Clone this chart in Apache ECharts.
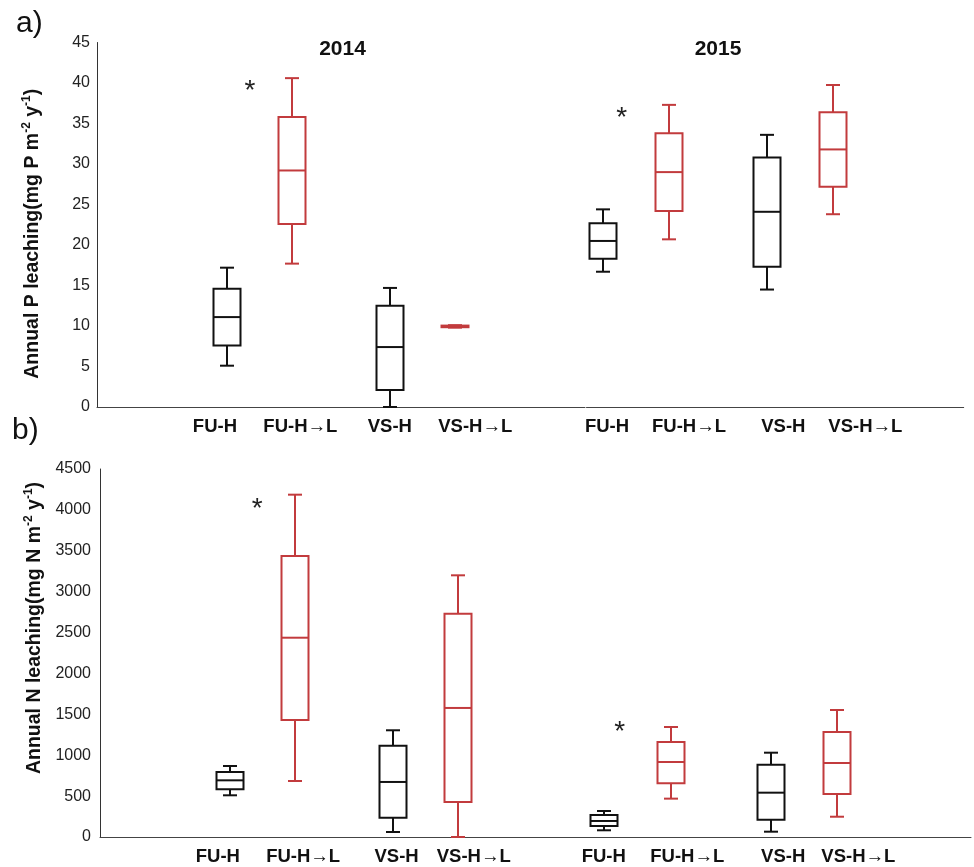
<!DOCTYPE html>
<html><head><meta charset="utf-8">
<script src="https://cdn.jsdelivr.net/npm/echarts@6/dist/echarts.min.js"></script>
<style>html,body{margin:0;padding:0;background:#fff}#c{width:974px;height:867px}</style>
</head><body><div id="c"></div>
<script>
// ---- data ----
const groups = ['FU-H', 'FU-H→L', 'VS-H', 'VS-H→L'];
const years = ['2014', '2015'];
// five-number summaries per group: [min, Q1, median, Q3, max]
const P2014 = [[5.1, 7.6, 11.1, 14.6, 17.2], [17.7, 22.6, 29.2, 35.8, 40.6], [0, 2.1, 7.4, 12.5, 14.7], [9.8, 9.85, 9.95, 10.05, 10.1]];
const P2015 = [[16.7, 18.3, 20.5, 22.7, 24.4], [20.7, 24.2, 29.0, 33.8, 37.3], [14.5, 17.3, 24.1, 30.8, 33.6], [23.8, 27.2, 31.8, 36.4, 39.75]];
const N2014 = [[510, 583, 693, 795, 868], [685, 1431, 2437, 3437, 4186], [61, 236, 673, 1117, 1305], [0, 428, 1578, 2731, 3200]];
const N2015 = [[82, 134, 196, 269, 318], [469, 656, 917, 1162, 1345], [65, 212, 542, 884, 1031], [248, 526, 905, 1284, 1553]];
// significance marks (x in slot units of each year's axis, y in data units)
const starP = [[9.4, 39.8], [2.15, 36.5]];
const starN = [[9.68, 4090], [1.95, 1360]];

// ---- layout ----
const SLOTS = [[8, 12, 18, 22], [1, 5, 11, 15]];
// where each group's tick label sits (slot units), per panel & year
const LABEL_SLOTS = {
  a: [[7.25, 12.5, 18, 23.25], [1.25, 6.25, 12, 17]],
  b: [[7.25, 12.5, 18.25, 23], [1, 6, 11.75, 16.25]]
};
const XMAX = [30, 23];
const BLACK = '#111111', RED = '#c23b3d';
const FONT = 'Liberation Sans, Arial, sans-serif';

function labelFor(panel, y) {
  return v => { const i = LABEL_SLOTS[panel][y].indexOf(v); return i >= 0 ? groups[i] : ''; };
}
function buildBoxes(stats, y) {
  return stats.map((s, g) => [SLOTS[y][g]].concat(s));
}
function boxRender(params, api) {
  const x = api.value(0);
  const c = i => api.coord([x, api.value(i)]);
  const pMin = c(1), pQ1 = c(2), pMed = c(3), pQ3 = c(4), pMax = c(5);
  const cx = Math.round(pMin[0]), hw = 13.5, cw = 7;
  const color = (params.dataIndex % 2) ? RED : BLACK;
  const st = { stroke: color, lineWidth: 2, fill: null };
  return { type: 'group', children: [
    { type: 'line', shape: { x1: cx, y1: pQ3[1], x2: cx, y2: pMax[1] }, style: st },
    { type: 'line', shape: { x1: cx, y1: pQ1[1], x2: cx, y2: pMin[1] }, style: st },
    { type: 'line', shape: { x1: cx - cw, y1: pMax[1], x2: cx + cw, y2: pMax[1] }, style: st },
    { type: 'line', shape: { x1: cx - cw, y1: pMin[1], x2: cx + cw, y2: pMin[1] }, style: st },
    { type: 'rect', shape: { x: cx - hw, y: pQ3[1], width: 2 * hw, height: pQ1[1] - pQ3[1] }, style: { stroke: color, lineWidth: 2, fill: '#fff' } },
    { type: 'line', shape: { x1: cx - hw, y1: pMed[1], x2: cx + hw, y2: pMed[1] }, style: st }
  ]};
}
function starRender(params, api) {
  const p = api.coord([api.value(0), api.value(1)]);
  const fs = 28;
  return { type: 'text', x: p[0], y: p[1] + fs * 0.23, style: { text: '*', fontSize: fs, fontFamily: FONT, fill: '#222', align: 'center', verticalAlign: 'middle' } };
}

function xAxisFor(gi, panel, y) {
  return { gridIndex: gi, type: 'value', min: 0, max: XMAX[y], interval: 0.25,
    axisLine: { onZero: false, lineStyle: { color: '#444', width: 1 } }, axisTick: { show: false }, splitLine: { show: false },
    axisLabel: { formatter: labelFor(panel, y), fontWeight: 'bold', fontSize: 18.5, color: '#111', margin: 10, fontFamily: FONT, showMinLabel: true, showMaxLabel: true } };
}
function yAxisFor(gi, max, interval, unit, margin, pad) {
  return { gridIndex: gi, type: 'value', min: 0, max: max, interval: interval,
    axisLine: { show: true, onZero: false, lineStyle: { color: '#333', width: 1 } }, axisTick: { show: false }, splitLine: { show: false },
    axisLabel: { fontSize: 16, color: '#222', margin: margin, fontFamily: FONT, formatter: v => String(v) },
    name: '{t|Annual ' + unit + ' leaching(mg ' + unit + ' m}{s|-2}{t| y}{s|-1}{t|)}',
    nameLocation: 'middle', nameGap: 52, nameRotate: 90,
    nameTextStyle: { padding: pad, rich: {
      t: { fontSize: 19.5, fontWeight: 'bold', fontFamily: FONT, color: '#111', lineHeight: 24 },
      s: { fontSize: 12, fontWeight: 'bold', fontFamily: FONT, color: '#111', lineHeight: 13, verticalAlign: 'top' }
    } } };
}
function hiddenY(gi, max, interval) {
  return { gridIndex: gi, type: 'value', min: 0, max: max, interval: interval, show: false };
}
function textEl(text, x, y, size, weight, align) {
  return { type: 'text', x: x, y: y, style: { text: text, fontSize: size, fontWeight: weight, fontFamily: FONT, fill: '#111', align: align, verticalAlign: 'middle' } };
}

const chart = echarts.init(document.getElementById('c'), null, { renderer: 'canvas' });
chart.setOption({
  animation: false,
  backgroundColor: '#fff',
  graphic: [
    textEl('a)', 16, 24, 30, 'normal', 'left'),
    textEl('b)', 12, 431, 30, 'normal', 'left'),
    textEl(years[0], 342.5, 49, 21, 'bold', 'center'),
    textEl(years[1], 718, 49, 21, 'bold', 'center')
  ],
  grid: [
    { left: 97, top: 42.5, width: 488, height: 364.5 },
    { left: 586.5, top: 42.5, width: 377.2, height: 364.5 },
    { left: 100, top: 469, width: 487.5, height: 368 },
    { left: 587.1, top: 469, width: 388.7, height: 368 }
  ],
  xAxis: [xAxisFor(0, 'a', 0), xAxisFor(1, 'a', 1), xAxisFor(2, 'b', 0), xAxisFor(3, 'b', 1)],
  yAxis: [yAxisFor(0, 45, 5, 'P', 7, [0, 18, 0, 0]), hiddenY(1, 45, 5), yAxisFor(2, 4500, 500, 'N', 9, [0, 0, 0, 50]), hiddenY(3, 4500, 500)],
  series: [
    { type: 'custom', xAxisIndex: 0, yAxisIndex: 0, renderItem: boxRender, encode: { x: 0, y: [1, 2, 3, 4, 5] }, data: buildBoxes(P2014, 0) },
    { type: 'custom', xAxisIndex: 1, yAxisIndex: 1, renderItem: boxRender, encode: { x: 0, y: [1, 2, 3, 4, 5] }, data: buildBoxes(P2015, 1) },
    { type: 'custom', xAxisIndex: 2, yAxisIndex: 2, renderItem: boxRender, encode: { x: 0, y: [1, 2, 3, 4, 5] }, data: buildBoxes(N2014, 0) },
    { type: 'custom', xAxisIndex: 3, yAxisIndex: 3, renderItem: boxRender, encode: { x: 0, y: [1, 2, 3, 4, 5] }, data: buildBoxes(N2015, 1) },
    { type: 'custom', xAxisIndex: 0, yAxisIndex: 0, renderItem: starRender, encode: { x: 0, y: 1 }, data: [starP[0]] },
    { type: 'custom', xAxisIndex: 1, yAxisIndex: 1, renderItem: starRender, encode: { x: 0, y: 1 }, data: [starP[1]] },
    { type: 'custom', xAxisIndex: 2, yAxisIndex: 2, renderItem: starRender, encode: { x: 0, y: 1 }, data: [starN[0]] },
    { type: 'custom', xAxisIndex: 3, yAxisIndex: 3, renderItem: starRender, encode: { x: 0, y: 1 }, data: [starN[1]] }
  ]
});
</script></body></html>
